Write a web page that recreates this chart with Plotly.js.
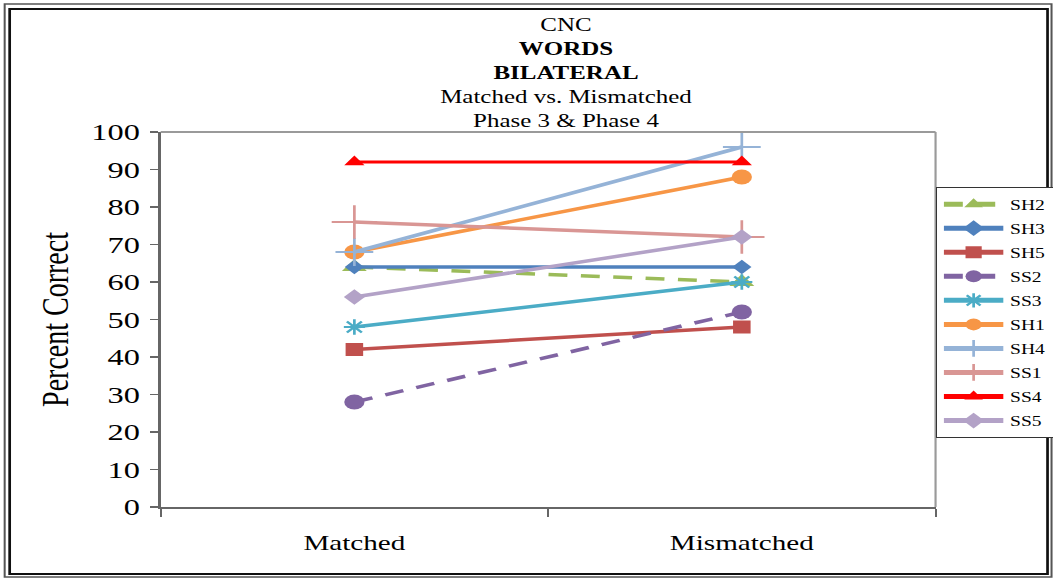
<!DOCTYPE html>
<html>
<head>
<meta charset="utf-8">
<script src="https://cdn.plot.ly/plotly-3.0.1.min.js"></script>
<style>
  html, body { margin: 0; padding: 0; background: #fff; overflow: hidden; }
  #wrap { width: 1053px; height: 578px; overflow: hidden; }
  /* the chart is laid out narrow and widened horizontally */
  #chart { width: 780px; height: 578px; transform: scaleX(1.35); transform-origin: 0 0; }
</style>
</head>
<body>
<div id="wrap"><div id="chart"></div></div>
<script>
// Percent correct per listener, Matched vs. Mismatched condition
const conditions = ['Matched', 'Mismatched'];
const subjects = ['SH2', 'SH3', 'SH5', 'SS2', 'SS3', 'SH1', 'SH4', 'SS1', 'SS4', 'SS5'];
const SH2 = [64, 60];
const SH3 = [64, 64];
const SH5 = [42, 48];
const SS2 = [28, 52];
const SS3 = [48, 60];
const SH1 = [68, 88];
const SH4 = [68, 96];
const SS1 = [76, 72];
const SS4 = [92, 92];
const SS5 = [56, 72];
const yTicks = [0, 10, 20, 30, 40, 50, 60, 70, 80, 90, 100];

const values = { SH2, SH3, SH5, SS2, SS3, SH1, SH4, SS1, SS4, SS5 };

const FONT = '"Liberation Serif", "Times New Roman", Times, serif';

const styles = {
  SH2: { color: '#9BBB59', dash: '14px,10px', symbol: 'triangle-up', size: 16, width: 3.5 },
  SH3: { color: '#4F81BD', dash: 'solid', symbol: 'diamond', size: 11, width: 3.5 },
  SH5: { color: '#C0504D', dash: 'solid', symbol: 'square', size: 13, width: 3.5 },
  SS2: { color: '#8064A2', dash: '14px,10px', symbol: 'circle', size: 15, width: 3.5 },
  SS3: { color: '#4BACC6', dash: 'solid', symbol: 'asterisk-open', size: 13, width: 3.5, open: true },
  SH1: { color: '#F79646', dash: 'solid', symbol: 'circle', size: 15, width: 3.5 },
  SH4: { color: '#95B3D7', dash: 'solid', symbol: 'cross-thin-open', size: 20, width: 3.5, open: true },
  SS1: { color: '#D99694', dash: 'solid', symbol: 'cross-thin-open', size: 24, width: 3.5, open: true },
  SS4: { color: '#FF0000', dash: 'solid', symbol: 'triangle-up', size: 13, width: 3 },
  SS5: { color: '#B3A2C7', dash: 'solid', symbol: 'diamond', size: 12, width: 3.5 }
};

const traces = subjects.map(name => {
  const s = styles[name];
  return {
    type: 'scatter',
    mode: 'lines+markers',
    name: name,
    legendgroup: name,
    x: conditions,
    y: values[name],
    line: { color: s.color, width: s.width, dash: s.dash },
    marker: {
      color: s.color,
      symbol: s.symbol,
      size: s.size,
      line: { color: s.color, width: s.open ? 2 : 0 }
    },
    cliponaxis: false
  };
});

// plot frame (top / right) and the double outer border
const shapes = [
  { type: 'line', xref: 'paper', yref: 'paper', x0: 0, x1: 1, y0: 1, y1: 1,
    line: { color: '#9a9a9a', width: 2 } },
  { type: 'line', xref: 'paper', yref: 'paper', x0: 1, x1: 1, y0: 0, y1: 1,
    line: { color: '#9a9a9a', width: 1.6 } },
  { type: 'rect', xref: 'paper', yref: 'paper',
    x0: (4 - 160) / 775, x1: (1051 - 160) / 775, y0: (507 - 577) / 375, y1: (507 - 4) / 375,
    line: { color: '#555', width: 1.5 } },
  { type: 'rect', xref: 'paper', yref: 'paper',
    x0: (9 - 160) / 775, x1: (1047 - 160) / 775, y0: (507 - 574) / 375, y1: (507 - 9) / 375,
    line: { color: '#111', width: 2 } }
];

const layout = {
  width: 780,
  height: 578,
  margin: { l: 118.5, r: 87.4, t: 132, b: 71, pad: 0, autoexpand: false },
  paper_bgcolor: '#fff',
  plot_bgcolor: '#fff',
  font: { family: FONT, color: '#000' },
  showlegend: true,
  title: {
    text: 'CNC<br><b>WORDS</b><br><b>BILATERAL</b><br>Matched vs. Mismatched<br>Phase 3 &amp; Phase 4',
    font: { family: FONT, size: 18.5, color: '#000' },
    xref: 'container', x: 0.5375, xanchor: 'center',
    yref: 'container', y: 1 - 31 / 578, yanchor: 'top'
  },
  xaxis: {
    type: 'category',
    range: [-0.5, 1.5],
    tickson: 'boundaries',
    ticks: 'outside',
    ticklen: 8,
    tickwidth: 1.5,
    tickcolor: '#666',
    showline: true,
    linecolor: '#666',
    linewidth: 2,
    showgrid: false,
    zeroline: false,
    ticklabelstandoff: 15,
    tickfont: { family: FONT, size: 21.6, color: '#000' }
  },
  yaxis: {
    range: [0, 100],
    tickvals: yTicks,
    ticks: 'outside',
    ticklen: 6,
    tickwidth: 1.5,
    tickcolor: '#666',
    showline: true,
    linecolor: '#666',
    linewidth: 1.6,
    showgrid: false,
    zeroline: false,
    ticklabelstandoff: 3,
    tickfont: { family: FONT, size: 24, color: '#000' },
    title: { text: 'Percent Correct', font: { family: FONT, size: 28, color: '#000' }, standoff: 8 }
  },
  legend: {
    x: 1, xanchor: 'left', xref: 'paper',
    y: (507 - 187) / 375, yanchor: 'top', yref: 'paper',
    bgcolor: '#fff',
    bordercolor: '#333',
    borderwidth: 1.2,
    font: { family: FONT, size: 14.5, color: '#000' },
    itemwidth: 44,
    itemsizing: 'constant',
    traceorder: 'grouped',
    tracegroupgap: 2.2
  },
  shapes: shapes
};

Plotly.newPlot('chart', traces, layout, { staticPlot: true, displayModeBar: false });
</script>
</body>
</html>
